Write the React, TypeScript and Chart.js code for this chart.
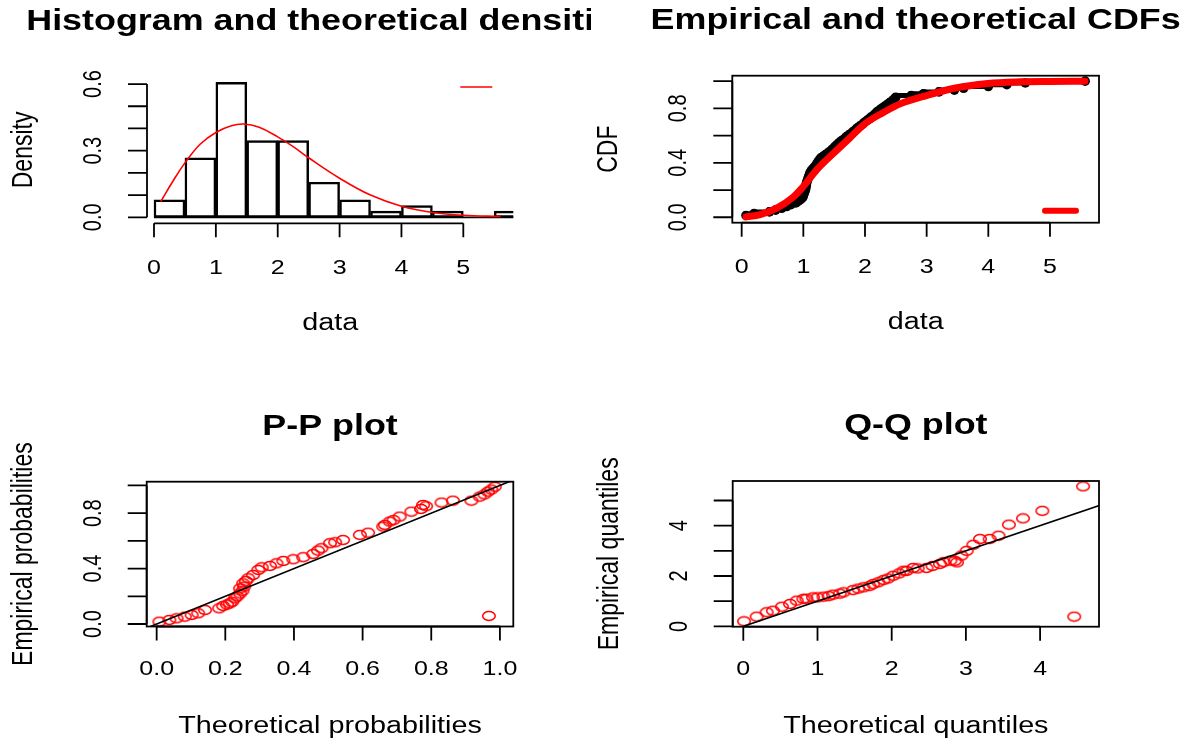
import React, { useEffect, useRef } from "react";
import { Chart, registerables } from "chart.js";
Chart.register(...registerables);

// ---------------- data ----------------
const histBreaks = [0, 0.5, 1, 1.5, 2, 2.5, 3, 3.5, 4, 4.5, 5, 5.5, 6];
const histDensity = [0.079, 0.268, 0.608, 0.345, 0.345, 0.158, 0.079, 0.028, 0.053, 0.028, 0, 0.028];

const densityX = [0.108, 0.3, 0.5, 0.75, 1.0, 1.25, 1.45, 1.7, 2.0, 2.25, 2.5, 3.0, 3.5, 4.0, 4.5, 5.0, 5.6];
const densityY = [0.07, 0.16, 0.245, 0.33, 0.382, 0.412, 0.42, 0.405, 0.362, 0.318, 0.268, 0.176, 0.1, 0.05, 0.022, 0.009, 0.004];

const sampleData = [
  0.07, 0.2, 0.45, 0.55, 0.65, 0.73, 0.8, 0.88, 0.92, 0.96,
  0.99, 1.0, 1.01, 1.02, 1.03, 1.04, 1.04, 1.05, 1.05, 1.06,
  1.07, 1.08, 1.09, 1.1, 1.11, 1.13, 1.15, 1.18, 1.2, 1.22,
  1.24, 1.26, 1.28, 1.32, 1.36, 1.4, 1.44, 1.47, 1.5, 1.53,
  1.56, 1.59, 1.63, 1.67, 1.7, 1.74, 1.78, 1.81, 1.85, 1.88,
  1.92, 1.96, 1.99, 2.03, 2.07, 2.1, 2.14, 2.17, 2.2, 2.24,
  2.28, 2.32, 2.36, 2.4, 2.44, 2.47, 2.5, 2.75, 2.95, 3.2,
  3.45, 3.6, 4.0, 4.3, 4.6, 5.57,
];

const cdfTheoX = [0.07, 0.3, 0.57, 0.84, 0.97, 1.22, 1.49, 1.76, 1.99, 2.3, 2.57, 3.01, 3.43, 3.99, 4.51, 5.0, 5.57];
const cdfTheoY = [0.003, 0.02, 0.067, 0.15, 0.21, 0.35, 0.47, 0.585, 0.684, 0.77, 0.833, 0.896, 0.946, 0.983, 0.995, 0.998, 1.0];

const ppTheo = [
  0.008, 0.037, 0.058, 0.082, 0.102, 0.121, 0.141, 0.182, 0.194, 0.205, 0.213, 0.22, 0.228, 0.235,
  0.243, 0.243, 0.25, 0.252, 0.255, 0.26, 0.267, 0.281, 0.296, 0.306, 0.33, 0.349, 0.369, 0.398,
  0.427, 0.456, 0.47, 0.48, 0.505, 0.52, 0.543, 0.592, 0.616, 0.66, 0.665, 0.679, 0.69, 0.708, 0.742,
  0.77, 0.776, 0.785, 0.83, 0.863, 0.917, 0.941, 0.955, 0.965, 0.975, 0.985, 0.968,
];
const ppEmp = [
  0.017, 0.029, 0.041, 0.053, 0.065, 0.077, 0.101, 0.113, 0.13, 0.14, 0.149, 0.16, 0.185, 0.2,
  0.22, 0.257, 0.24, 0.293, 0.27, 0.31, 0.33, 0.354, 0.39, 0.409, 0.419, 0.438, 0.455, 0.467,
  0.482, 0.505, 0.53, 0.547, 0.583, 0.59, 0.606, 0.643, 0.659, 0.703, 0.715, 0.739, 0.75, 0.775, 0.811,
  0.83, 0.859, 0.85, 0.876, 0.89, 0.89, 0.919, 0.935, 0.955, 0.97, 0.991, 0.058,
];

const qqTheo = [
  0.01, 0.18, 0.315, 0.4, 0.52, 0.63, 0.72, 0.81, 0.85, 0.94, 1.0, 1.08, 1.15, 1.21, 1.3, 1.35,
  1.48, 1.55, 1.62, 1.7, 1.75, 1.82, 1.89, 1.95, 2.02, 2.1, 2.16, 2.2, 2.29, 2.35, 2.47, 2.55,
  2.65, 2.7, 2.79, 2.85, 2.88, 2.94, 3.01, 3.1, 3.19, 3.32, 3.44, 3.58, 3.77, 4.03, 4.58, 4.46,
];
const qqEmp = [
  0.2, 0.385, 0.56, 0.62, 0.78, 0.89, 1.02, 1.09, 1.1, 1.15, 1.15, 1.18, 1.2, 1.26, 1.3, 1.35,
  1.44, 1.5, 1.55, 1.6, 1.68, 1.75, 1.84, 1.9, 2.01, 2.1, 2.21, 2.2, 2.32, 2.3, 2.32, 2.4,
  2.48, 2.55, 2.61, 2.6, 2.54, 2.81, 3.0, 3.24, 3.47, 3.47, 3.6, 4.04, 4.29, 4.59, 5.56, 0.385,
];

const refLine = [-1, 7];

const histXTicks = [0, 1, 2, 3, 4, 5];
const histXLabels = ["0", "1", "2", "3", "4", "5"];
const histYTicks = [0, 0.1, 0.2, 0.3, 0.4, 0.5, 0.6];
const histYLabels = ["0.0", "", "", "0.3", "", "", "0.6"];
const cdfXTicks = [0, 1, 2, 3, 4, 5];
const cdfXLabels = ["0", "1", "2", "3", "4", "5"];
const probTicks = [0, 0.2, 0.4, 0.6, 0.8, 1.0];
const probYLabels = ["0.0", "", "0.4", "", "0.8", ""];
const probXLabels = ["0.0", "0.2", "0.4", "0.6", "0.8", "1.0"];
const qqXTicks = [0, 1, 2, 3, 4];
const qqXLabels = ["0", "1", "2", "3", "4"];
const qqYTicks = [0, 1, 2, 3, 4, 5];
const qqYLabels = ["0", "", "2", "", "4", ""];

// ---------------- styling ----------------
const SX = 1.25;
const FONT = '"Liberation Sans", Arial, sans-serif';
const TICK_FONT = `20px ${FONT}`;
const LAB_FONT = `23px ${FONT}`;
const MAIN_FONT = `bold 28.7px ${FONT}`;
const TXT = "#000";

function drawText(ctx: CanvasRenderingContext2D, s: string, x: number, y: number, font: string, rot = 0) {
  ctx.save();
  ctx.translate(x, y);
  ctx.scale(SX, 1);
  if (rot) ctx.rotate(rot);
  ctx.font = font;
  ctx.fillStyle = TXT;
  ctx.textAlign = "center";
  ctx.textBaseline = "middle";
  ctx.fillText(s, 0, 0);
  ctx.restore();
}

const rPlot = {
  id: "rPlot",
  afterDraw(chart: any, _args: any, o: any) {
    const ctx: CanvasRenderingContext2D = chart.ctx;
    const a = chart.chartArea;
    const xs = chart.scales.x;
    const ys = chart.scales.y;
    ctx.save();
    ctx.strokeStyle = "#000";
    ctx.lineWidth = 1.8;
    if (o.box) {
      ctx.strokeRect(a.left, a.top, a.right - a.left, a.bottom - a.top);
    }
    const xp = o.xTicks.map((v: number) => xs.getPixelForValue(v));
    ctx.beginPath();
    ctx.moveTo(xp[0], a.bottom);
    ctx.lineTo(xp[xp.length - 1], a.bottom);
    xp.forEach((p: number) => {
      ctx.moveTo(p, a.bottom);
      ctx.lineTo(p, a.bottom + 14);
    });
    const yp = o.yTicks.map((v: number) => ys.getPixelForValue(v));
    ctx.moveTo(a.left, yp[0]);
    ctx.lineTo(a.left, yp[yp.length - 1]);
    yp.forEach((p: number) => {
      ctx.moveTo(a.left, p);
      ctx.lineTo(a.left - 19, p);
    });
    ctx.stroke();
    xp.forEach((p: number, i: number) => {
      if (o.xLabels[i]) drawText(ctx, o.xLabels[i], p, a.bottom + o.xLabOff, TICK_FONT);
    });
    yp.forEach((p: number, i: number) => {
      if (o.yLabels[i]) drawText(ctx, o.yLabels[i], a.left - 53, p, TICK_FONT, -Math.PI / 2);
    });
    const cx = (a.left + a.right) / 2;
    const cy = (a.top + a.bottom) / 2;
    drawText(ctx, o.title, cx, a.top - 54.5, MAIN_FONT);
    drawText(ctx, o.xTitle, cx, a.bottom + o.xTitleOff, LAB_FONT);
    drawText(ctx, o.yTitle, a.left - 123, cy, LAB_FONT, -Math.PI / 2);
    if (o.legend) {
      const L = o.legend;
      ctx.strokeStyle = L.color;
      ctx.lineWidth = L.width;
      ctx.lineCap = L.cap;
      const y = L.top ? a.top + L.dy : a.bottom - L.dy;
      ctx.beginPath();
      ctx.moveTo(a.right - L.x0, y);
      ctx.lineTo(a.right - L.x1, y);
      ctx.stroke();
    }
    ctx.restore();
  },
};

function ellipseSprite(): HTMLCanvasElement {
  const c = document.createElement("canvas");
  c.width = 16;
  c.height = 12;
  const g = c.getContext("2d")!;
  g.strokeStyle = "#ff0000";
  g.lineWidth = 1.5;
  g.beginPath();
  g.ellipse(8, 6, 6.3, 4.4, 0, 0, Math.PI * 2);
  g.stroke();
  return c;
}

type Rect = { l: number; t: number; w: number; h: number };
type Plot = { l: number; t: number; r: number; b: number };

const panels: { canvas: Rect; plot: Plot }[] = [
  { canvas: { l: 0, t: 0, w: 591, h: 373 }, plot: { l: 147, t: 76.5, r: 513.3, b: 223.3 } },
  { canvas: { l: 591, t: 0, w: 596, h: 373 }, plot: { l: 732.3, t: 75.7, r: 1099, b: 222.7 } },
  { canvas: { l: 0, t: 373, w: 591, h: 374 }, plot: { l: 146.7, t: 481.7, r: 513.3, b: 626.5 } },
  { canvas: { l: 591, t: 373, w: 596, h: 374 }, plot: { l: 732.7, t: 481, r: 1099, b: 626.7 } },
];

function padding(p: { canvas: Rect; plot: Plot }) {
  return {
    left: p.plot.l - p.canvas.l,
    top: p.plot.t - p.canvas.t,
    right: p.canvas.l + p.canvas.w - p.plot.r,
    bottom: p.canvas.t + p.canvas.h - p.plot.b,
  };
}

function baseOptions(i: number, xmin: number, xmax: number, ymin: number, ymax: number, deco: any): any {
  return {
    responsive: false,
    animation: false,
    events: [],
    layout: { padding: padding(panels[i]) },
    plugins: { legend: { display: false }, tooltip: { enabled: false }, title: { display: false }, rPlot: deco },
    scales: {
      x: { type: "linear", min: xmin, max: xmax, display: false, offset: false },
      y: { type: "linear", min: ymin, max: ymax, display: false },
    },
  };
}

export default function App() {
  const r0 = useRef<HTMLCanvasElement>(null);
  const r1 = useRef<HTMLCanvasElement>(null);
  const r2 = useRef<HTMLCanvasElement>(null);
  const r3 = useRef<HTMLCanvasElement>(null);

  useEffect(() => {
    const charts: Chart[] = [];
    const sprite = ellipseSprite();

    const histBars = histDensity.map((d, i) => ({ x: (histBreaks[i] + histBreaks[i + 1]) / 2, y: d }));
    charts.push(
      new Chart(r0.current!, {
        type: "bar",
        data: {
          datasets: [
            {
              type: "line",
              data: densityX.map((x, i) => ({ x, y: densityY[i] })),
              borderColor: "#ff0000",
              borderWidth: 1.6,
              pointRadius: 0,
              tension: 0.4,
            } as any,
            {
              type: "line",
              data: [
                { x: histBreaks[0], y: 0 },
                { x: histBreaks[histBreaks.length - 1], y: 0 },
              ],
              borderColor: "#000",
              borderWidth: 1.8,
              pointRadius: 0,
            } as any,
            {
              type: "bar",
              data: histBars,
              backgroundColor: "rgba(255,255,255,0)",
              borderColor: "#000",
              borderWidth: 1.8,
              borderSkipped: false,
              barPercentage: 1,
              categoryPercentage: 1,
            } as any,
          ],
        },
        options: baseOptions(0, -0.113, 5.808, -0.027, 0.634, {
          box: false,
          xTicks: histXTicks,
          xLabels: histXLabels,
          yTicks: histYTicks,
          yLabels: histYLabels,
          xLabOff: 45,
          xTitleOff: 100,
          title: "Histogram and theoretical densities",
          xTitle: "data",
          yTitle: "Density",
          legend: { color: "#ff0000", width: 1.6, cap: "butt", x0: 53, x1: 21, dy: 10.5, top: true },
        }),
        plugins: [rPlot],
      })
    );

    const n = sampleData.length;
    charts.push(
      new Chart(r1.current!, {
        type: "scatter",
        data: {
          datasets: [
            {
              data: cdfTheoX.map((x, i) => ({ x, y: cdfTheoY[i] })),
              showLine: true,
              borderColor: "#ff0000",
              borderWidth: 7,
              pointRadius: 0,
              cubicInterpolationMode: "monotone",
              borderCapStyle: "round",
            } as any,
            {
              data: sampleData.map((x, i) => ({ x, y: (i + 1) / n })),
              showLine: true,
              stepped: "after",
              borderColor: "#000",
              borderWidth: 5,
              pointRadius: 4.8,
              pointBackgroundColor: "#000",
              pointBorderWidth: 0,
            } as any,
          ],
        },
        options: baseOptions(1, -0.152, 5.795, -0.04, 1.04, {
          box: true,
          xTicks: cdfXTicks,
          xLabels: cdfXLabels,
          yTicks: probTicks,
          yLabels: probYLabels,
          xLabOff: 45,
          xTitleOff: 100,
          title: "Empirical and theoretical CDFs",
          xTitle: "data",
          yTitle: "CDF",
          legend: { color: "#ff0000", width: 6, cap: "round", x0: 54, x1: 23, dy: 12, top: false },
        }),
        plugins: [rPlot],
      })
    );

    charts.push(
      new Chart(r2.current!, {
        type: "scatter",
        data: {
          datasets: [
            {
              data: refLine.map((v) => ({ x: v, y: v })),
              showLine: true,
              borderColor: "#000",
              borderWidth: 1.6,
              pointRadius: 0,
            } as any,
            {
              data: ppTheo.map((x, i) => ({ x, y: ppEmp[i] })),
              pointStyle: sprite,
              pointRadius: 6,
            } as any,
          ],
        },
        options: baseOptions(2, -0.029, 1.039, -0.018, 1.027, {
          box: true,
          xTicks: probTicks,
          xLabels: probXLabels,
          yTicks: probTicks,
          yLabels: probYLabels,
          xLabOff: 43,
          xTitleOff: 100,
          title: "P-P plot",
          xTitle: "Theoretical probabilities",
          yTitle: "Empirical probabilities",
        }),
        plugins: [rPlot],
      })
    );

    charts.push(
      new Chart(r3.current!, {
        type: "scatter",
        data: {
          datasets: [
            {
              data: refLine.map((v) => ({ x: v, y: v })),
              showLine: true,
              borderColor: "#000",
              borderWidth: 1.6,
              pointRadius: 0,
            } as any,
            {
              data: qqTheo.map((x, i) => ({ x, y: qqEmp[i] })),
              pointStyle: sprite,
              pointRadius: 6,
            } as any,
          ],
        },
        options: baseOptions(3, -0.143, 4.794, -0.014, 5.775, {
          box: true,
          xTicks: qqXTicks,
          xLabels: qqXLabels,
          yTicks: qqYTicks,
          yLabels: qqYLabels,
          xLabOff: 43,
          xTitleOff: 100,
          title: "Q-Q plot",
          xTitle: "Theoretical quantiles",
          yTitle: "Empirical quantiles",
        }),
        plugins: [rPlot],
      })
    );

    return () => charts.forEach((c) => c.destroy());
  }, []);

  const refs = [r0, r1, r2, r3];
  return (
    <div style={{ position: "absolute", left: 0, top: 0, width: 1187, height: 747, background: "#fff" }}>
      {panels.map((p, i) => (
        <canvas
          key={i}
          ref={refs[i]}
          width={p.canvas.w}
          height={p.canvas.h}
          style={{ position: "absolute", left: p.canvas.l, top: p.canvas.t, width: p.canvas.w, height: p.canvas.h }}
        />
      ))}
    </div>
  );
}
